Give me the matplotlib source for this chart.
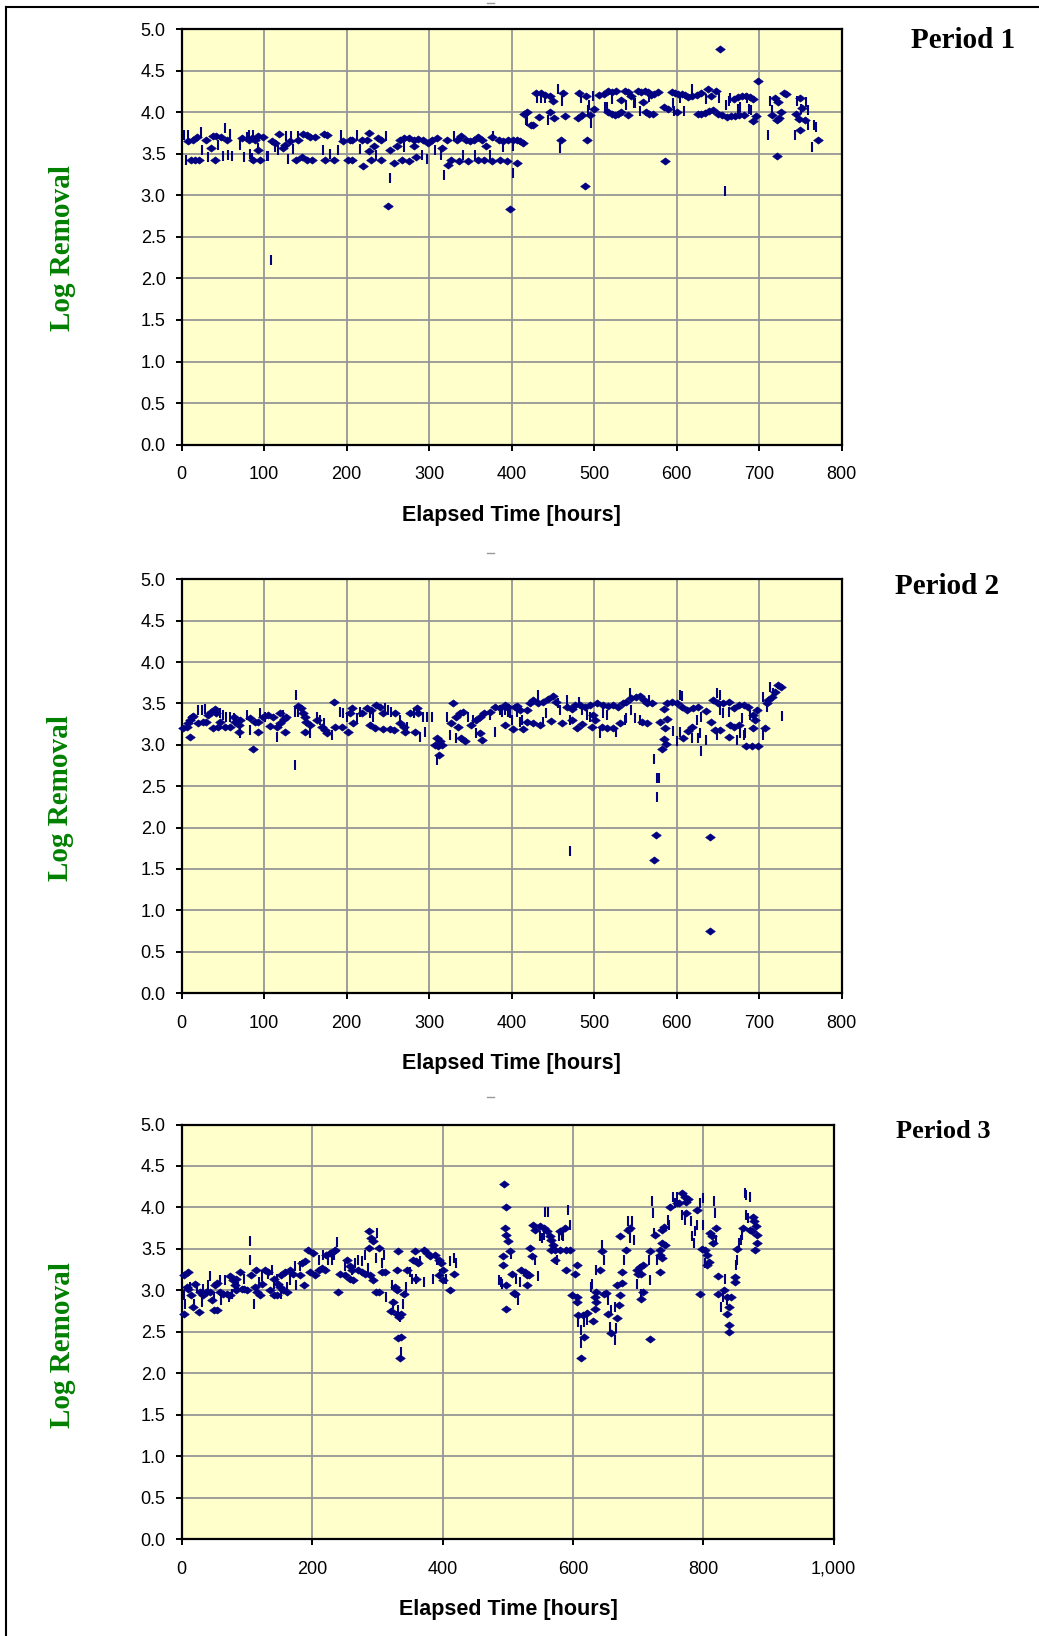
import matplotlib.pyplot as plt
import matplotlib.ticker as mticker
from matplotlib.lines import Line2D

W, H = 1039, 1636

# ---- data: (elapsed hours, log removal) ----
p1_diamonds = [
    (8, 3.65), (14, 3.67), (18, 3.70), (11, 3.43), (16, 3.43), (21, 3.43), (29, 3.67), (36, 3.57),
    (40, 3.43), (38, 3.71), (42, 3.71), (48, 3.70), (55, 3.67), (73, 3.69), (81, 3.67), (85, 3.69),
    (87, 3.43), (95, 3.43), (89, 3.67), (92, 3.54), (93, 3.71), (99, 3.70), (109, 3.65), (113, 3.63),
    (118, 3.74), (123, 3.57), (125, 3.61), (131, 3.65), (139, 3.43), (146, 3.46), (152, 3.43),
    (158, 3.43), (141, 3.66), (147, 3.74), (152, 3.72), (156, 3.70), (162, 3.70), (172, 3.74),
    (176, 3.72), (174, 3.43), (184, 3.43), (196, 3.65), (204, 3.66), (207, 3.67), (202, 3.43),
    (206, 3.43), (218, 3.66), (220, 3.35), (224, 3.67), (227, 3.75), (227, 3.53), (229, 3.43),
    (233, 3.59), (238, 3.69), (242, 3.66), (241, 3.43), (250, 2.87), (253, 3.55), (257, 3.39),
    (261, 3.59), (265, 3.67), (269, 3.69), (275, 3.69), (281, 3.66), (267, 3.43), (276, 3.41),
    (284, 3.46), (287, 3.68), (293, 3.66), (299, 3.63), (281, 3.59), (303, 3.67), (309, 3.69),
    (315, 3.57), (321, 3.66), (323, 3.37), (327, 3.43), (334, 3.66), (339, 3.71), (345, 3.67),
    (350, 3.65), (354, 3.67), (359, 3.70), (364, 3.67), (369, 3.59), (336, 3.41), (347, 3.41),
    (359, 3.43), (366, 3.42), (376, 3.41), (386, 3.43), (394, 3.41), (376, 3.70), (384, 3.66),
    (390, 3.65), (396, 3.66), (398, 2.83), (402, 3.66), (406, 3.66), (410, 3.65), (414, 3.63),
    (406, 3.39), (419, 4.00), (415, 3.98), (423, 3.84), (426, 3.84), (429, 4.23), (435, 4.23),
    (440, 4.21), (446, 4.20), (450, 4.13), (447, 4.00), (451, 3.93), (433, 3.94), (460, 3.67),
    (462, 4.23), (465, 3.95), (480, 3.93), (485, 3.97), (482, 4.23), (490, 4.19), (491, 3.67),
    (489, 3.11), (495, 3.96), (500, 4.04), (506, 4.21), (512, 4.22), (517, 4.25), (522, 4.24),
    (527, 4.25), (517, 4.00), (521, 3.98), (525, 3.97), (529, 3.98), (533, 4.00), (537, 4.25),
    (541, 4.24), (545, 4.20), (533, 4.15), (541, 3.97), (553, 4.25), (557, 4.24), (561, 4.26),
    (565, 4.24), (569, 4.21), (573, 4.22), (577, 4.24), (563, 4.00), (567, 3.98), (571, 3.98),
    (559, 4.12), (586, 3.41), (584, 4.06), (590, 4.04), (594, 4.24), (598, 4.23), (602, 4.22),
    (606, 4.22), (610, 4.21), (600, 4.00), (614, 4.18), (618, 4.20), (624, 4.21), (630, 4.23),
    (638, 4.28), (642, 4.20), (648, 4.25), (626, 3.98), (630, 3.98), (634, 3.99), (639, 4.01),
    (644, 4.03), (650, 3.98), (655, 3.96), (661, 3.94), (666, 3.95), (671, 3.95), (676, 3.96),
    (681, 3.97), (669, 4.16), (674, 4.18), (679, 4.20), (684, 4.20), (689, 4.18), (693, 4.16),
    (692, 3.89), (696, 3.95), (652, 4.76), (699, 4.38), (719, 4.17), (723, 4.12), (726, 4.00),
    (715, 3.97), (721, 3.91), (724, 3.93), (721, 3.47), (730, 4.23), (733, 4.22), (744, 3.98),
    (748, 3.92), (749, 4.17), (752, 4.05), (755, 3.90), (749, 3.79), (771, 3.67),
]
p1_bars = [
    (3, 3.73), (8, 3.73), (5, 3.43), (23, 3.76), (25, 3.55), (32, 3.46), (44, 3.60), (52, 3.81),
    (50, 3.47), (58, 3.74), (56, 3.49), (61, 3.47), (71, 3.61), (75, 3.46), (79, 3.70), (81, 3.73),
    (83, 3.50), (85, 3.45), (87, 3.72), (92, 3.57), (103, 3.47), (105, 3.47), (113, 3.58),
    (117, 3.55), (127, 3.71), (129, 3.44), (132, 3.71), (135, 3.56), (141, 3.71), (171, 3.55),
    (180, 3.50), (190, 3.55), (193, 3.72), (212, 3.72), (216, 3.56), (236, 3.49), (248, 3.71),
    (252, 3.21), (269, 3.58), (291, 3.49), (297, 3.44), (307, 3.55), (314, 3.49), (318, 3.24),
    (330, 3.71), (341, 3.49), (355, 3.49), (374, 3.49), (377, 3.71), (390, 3.58), (401, 3.27),
    (401, 3.59), (108, 2.22), (417, 3.90), (419, 3.89), (431, 4.17), (436, 4.17), (440, 4.17),
    (444, 3.91), (456, 4.28), (459, 3.57), (461, 4.13), (484, 4.17), (493, 4.02), (494, 4.08),
    (496, 3.87), (498, 4.20), (513, 4.06), (515, 4.06), (522, 4.16), (539, 4.08), (548, 4.11),
    (550, 4.11), (555, 4.01), (567, 4.18), (595, 4.11), (597, 4.01), (604, 4.17), (609, 4.01),
    (618, 4.28), (635, 4.16), (651, 4.17), (659, 3.05), (660, 4.08), (663, 4.13), (665, 4.17),
    (674, 4.04), (677, 4.06), (685, 4.17), (688, 4.04), (690, 4.02), (711, 3.73), (713, 4.13),
    (715, 4.02), (743, 3.73), (746, 4.14), (751, 4.04), (757, 4.12), (759, 4.02), (759, 3.84),
    (764, 3.58), (767, 3.84), (769, 3.82),
]

p2_diamonds = [
    (2, 3.20), (6, 3.22), (8, 3.26), (10, 3.30), (12, 3.34), (14, 3.35), (10, 3.10), (20, 3.26),
    (26, 3.27), (30, 3.28), (32, 3.36), (36, 3.40), (40, 3.43), (42, 3.38), (38, 3.20), (44, 3.22),
    (46, 3.28), (52, 3.22), (58, 3.22), (65, 3.27), (69, 3.24), (63, 3.33), (71, 3.30), (69, 3.16),
    (87, 2.95), (83, 3.32), (89, 3.28), (93, 3.27), (93, 3.16), (99, 3.33), (105, 3.36), (111, 3.33),
    (107, 3.23), (115, 3.22), (119, 3.26), (124, 3.31), (125, 3.16), (127, 3.34), (119, 3.38),
    (141, 3.47), (144, 3.44), (147, 3.39), (150, 3.34), (151, 3.28), (150, 3.15), (156, 3.24),
    (164, 3.30), (170, 3.22), (174, 3.18), (176, 3.14), (184, 3.52), (186, 3.22), (194, 3.22),
    (202, 3.16), (204, 3.38), (208, 3.26), (206, 3.44), (218, 3.38), (224, 3.44), (230, 3.42),
    (236, 3.48), (240, 3.46), (228, 3.24), (234, 3.20), (244, 3.19), (252, 3.19), (257, 3.18),
    (244, 3.38), (258, 3.38), (265, 3.26), (269, 3.22), (271, 3.16), (283, 3.16), (277, 3.38),
    (285, 3.44), (287, 3.39), (307, 3.00), (311, 2.98), (313, 3.04), (309, 3.08), (316, 3.00),
    (312, 2.88), (329, 3.51), (327, 3.26), (333, 3.34), (337, 3.38), (341, 3.40), (339, 3.08),
    (343, 3.04), (335, 3.22), (351, 3.24), (357, 3.30), (362, 3.34), (366, 3.38), (362, 3.14),
    (364, 3.06), (374, 3.40), (380, 3.46), (386, 3.45), (392, 3.48), (396, 3.46), (406, 3.47),
    (402, 3.19), (414, 3.19), (394, 3.46), (404, 3.46), (410, 3.42), (392, 3.24), (418, 3.42),
    (422, 3.50), (426, 3.54), (432, 3.51), (438, 3.52), (444, 3.55), (450, 3.59), (454, 3.52),
    (418, 3.28), (426, 3.26), (434, 3.24), (448, 3.29), (461, 3.26), (467, 3.46), (473, 3.43),
    (477, 3.48), (483, 3.48), (489, 3.46), (495, 3.48), (473, 3.30), (479, 3.20), (485, 3.25),
    (499, 3.36), (501, 3.30), (497, 3.22), (503, 3.50), (511, 3.48), (517, 3.47), (523, 3.48),
    (529, 3.46), (509, 3.22), (515, 3.20), (523, 3.20), (531, 3.26), (535, 3.50), (539, 3.52),
    (545, 3.56), (551, 3.58), (556, 3.59), (560, 3.54), (564, 3.50), (570, 3.51), (564, 3.26),
    (558, 3.28), (584, 3.43), (588, 3.50), (594, 3.52), (600, 3.51), (580, 3.28), (586, 3.20),
    (588, 3.31), (584, 3.07), (582, 2.95), (587, 3.01), (575, 1.91), (572, 1.61), (640, 1.88),
    (640, 0.75), (606, 3.46), (612, 3.42), (620, 3.44), (626, 3.46), (636, 3.41), (608, 3.08),
    (614, 3.17), (618, 3.22), (642, 3.27), (646, 3.18), (652, 3.18), (644, 3.54), (650, 3.51),
    (656, 3.50), (663, 3.52), (665, 3.24), (669, 3.44), (675, 3.48), (681, 3.48), (687, 3.46),
    (663, 3.10), (669, 3.22), (675, 3.24), (693, 3.36), (695, 3.30), (697, 3.42), (684, 2.99),
    (691, 2.99), (699, 2.99), (693, 3.20), (707, 3.20), (709, 3.50), (711, 3.54), (715, 3.58),
    (719, 3.64), (723, 3.72), (727, 3.70),
]
p2_bars = [
    (20, 3.42), (24, 3.42), (28, 3.43), (46, 3.38), (50, 3.36), (54, 3.34), (58, 3.34), (63, 3.32),
    (71, 3.14), (79, 3.36), (83, 3.18), (95, 3.38), (101, 3.34), (115, 3.10), (123, 3.36),
    (137, 2.76), (138, 3.60), (137, 3.40), (141, 3.40), (156, 3.14), (164, 3.34), (168, 3.30),
    (172, 3.26), (182, 3.12), (192, 3.40), (196, 3.38), (200, 3.34), (212, 3.32), (216, 3.40),
    (228, 3.38), (232, 3.34), (246, 3.44), (250, 3.42), (254, 3.40), (265, 3.30), (273, 3.22),
    (281, 3.38), (289, 3.10), (293, 3.34), (295, 3.16), (297, 3.34), (303, 3.34), (309, 2.82),
    (321, 3.34), (325, 3.12), (333, 3.08), (347, 3.34), (353, 3.30), (357, 3.14), (374, 3.36),
    (380, 3.16), (386, 3.42), (398, 3.38), (406, 3.40), (412, 3.30), (388, 3.40), (392, 3.42),
    (396, 3.40), (400, 3.30), (410, 3.28), (432, 3.60), (438, 3.28), (442, 3.38), (456, 3.50),
    (458, 3.42), (467, 3.54), (471, 3.30), (481, 3.52), (485, 3.42), (491, 3.36), (495, 3.34),
    (507, 3.14), (511, 3.38), (515, 3.36), (527, 3.16), (537, 3.30), (539, 3.32), (543, 3.62),
    (545, 3.42), (549, 3.32), (556, 3.30), (566, 3.54), (573, 2.83), (576, 2.60), (578, 2.60),
    (576, 2.37), (471, 1.72), (595, 3.17), (600, 3.04), (604, 3.60), (606, 3.59), (604, 3.16),
    (619, 3.08), (626, 3.08), (628, 3.14), (630, 2.92), (624, 3.30), (630, 3.34), (636, 3.06),
    (649, 3.62), (653, 3.60), (649, 3.12), (653, 3.42), (656, 3.38), (663, 3.40), (673, 3.06),
    (679, 3.32), (681, 3.12), (683, 3.14), (677, 3.14), (689, 3.36), (705, 3.58), (709, 3.46),
    (705, 3.12), (713, 3.70), (717, 3.62), (728, 3.35),
]

p3_diamonds = [
    (3, 2.72), (3, 3.18), (9, 3.22), (10, 3.02), (8, 3.04), (14, 2.94), (18, 2.80), (20, 3.08),
    (26, 2.74), (28, 2.98), (33, 2.94), (38, 2.98), (43, 2.98), (46, 2.88), (49, 2.76), (54, 2.76),
    (51, 3.06), (54, 3.09), (59, 2.98), (64, 2.96), (69, 2.96), (74, 2.94), (74, 3.17), (79, 3.12),
    (84, 3.14), (89, 3.22), (84, 3.00), (92, 3.02), (82, 3.06), (95, 3.02), (100, 3.00),
    (107, 3.18), (114, 3.24), (112, 3.04), (116, 2.98), (120, 2.94), (123, 3.08), (128, 3.25),
    (133, 3.22), (135, 3.00), (141, 2.94), (146, 2.94), (141, 3.14), (148, 3.08), (153, 3.18),
    (158, 3.22), (150, 3.04), (156, 3.00), (161, 2.98), (166, 3.25), (171, 3.20), (184, 3.33),
    (189, 3.35), (182, 3.18), (187, 3.06), (194, 3.49), (202, 3.45), (197, 3.22), (205, 3.18),
    (210, 3.25), (215, 3.27), (220, 3.25), (222, 3.43), (228, 3.45), (233, 3.47), (235, 3.49),
    (240, 2.98), (243, 3.20), (250, 3.18), (253, 3.37), (258, 3.29), (258, 3.14), (261, 3.25),
    (263, 3.12), (271, 3.25), (276, 3.22), (281, 3.20), (288, 3.71), (291, 3.63), (293, 3.59),
    (288, 3.51), (289, 3.18), (294, 3.12), (298, 2.98), (302, 2.98), (302, 3.51), (307, 3.22),
    (312, 3.22), (332, 3.48), (330, 3.25), (327, 3.04), (330, 3.00), (324, 2.86), (321, 2.75),
    (330, 2.72), (334, 2.68), (337, 2.71), (332, 2.42), (337, 2.44), (335, 2.18), (341, 2.96),
    (346, 3.25), (358, 3.47), (355, 3.37), (359, 3.35), (363, 3.33), (360, 3.14), (371, 3.49),
    (376, 3.45), (381, 3.41), (388, 3.43), (394, 3.37), (397, 3.33), (401, 3.25), (395, 3.18),
    (400, 3.12), (411, 3.00), (417, 3.20), (494, 4.28), (497, 4.00), (496, 3.75), (498, 3.67),
    (501, 3.60), (504, 3.47), (493, 3.41), (493, 3.31), (498, 3.06), (498, 2.77), (506, 3.20),
    (509, 2.97), (511, 2.96), (521, 3.25), (527, 3.22), (529, 3.18), (532, 3.19), (529, 3.06),
    (534, 3.51), (537, 3.41), (539, 3.79), (542, 3.73), (550, 3.77), (555, 3.75), (560, 3.71),
    (565, 3.65), (567, 3.61), (570, 3.55), (567, 3.49), (572, 3.49), (573, 3.37), (580, 3.71),
    (588, 3.75), (580, 3.49), (589, 3.49), (596, 3.49), (589, 3.24), (606, 3.31), (603, 3.20),
    (598, 2.94), (606, 2.92), (606, 2.86), (608, 2.70), (616, 2.70), (622, 2.73), (617, 2.44),
    (613, 2.18), (631, 2.63), (634, 2.77), (636, 2.86), (634, 2.92), (636, 2.98), (642, 3.24),
    (644, 3.48), (648, 2.96), (651, 2.97), (654, 2.71), (659, 2.48), (667, 2.67), (667, 3.06),
    (670, 2.82), (672, 2.94), (675, 3.09), (672, 3.65), (676, 3.22), (681, 3.49), (685, 3.73),
    (688, 3.75), (698, 3.24), (703, 3.28), (708, 3.31), (705, 3.20), (700, 3.20), (708, 2.98),
    (705, 2.89), (718, 2.41), (718, 3.47), (726, 3.67), (734, 3.49), (733, 3.43), (736, 3.39),
    (734, 3.22), (736, 3.73), (740, 3.76), (736, 3.57), (741, 3.55), (749, 4.01), (759, 4.05),
    (762, 4.05), (767, 4.17), (772, 4.13), (774, 4.07), (777, 4.10), (774, 3.93), (790, 3.97),
    (795, 2.96), (798, 3.50), (803, 3.49), (805, 3.43), (805, 3.30), (809, 3.34), (810, 3.69),
    (813, 3.65), (815, 3.57), (819, 3.75), (823, 3.17), (822, 2.96), (832, 3.00), (836, 2.92),
    (840, 2.80), (837, 2.71), (840, 2.58), (840, 2.50), (843, 2.92), (849, 3.16), (849, 3.10),
    (852, 3.50), (861, 3.75), (872, 3.73), (876, 3.89), (878, 3.83), (881, 3.77), (882, 3.67),
    (882, 3.57), (879, 3.49), (874, 3.71),
]
p3_bars = [
    (4, 2.94), (5, 2.84), (12, 3.04), (19, 2.84), (23, 3.04), (31, 2.86), (33, 3.02), (41, 3.06),
    (43, 3.17), (49, 2.92), (59, 3.12), (61, 2.88), (66, 3.12), (72, 2.92), (77, 2.96), (87, 3.04),
    (95, 3.14), (105, 3.60), (105, 3.37), (111, 2.84), (118, 3.10), (123, 3.17), (133, 3.20),
    (138, 3.25), (141, 3.08), (146, 3.14), (153, 2.96), (161, 3.04), (166, 3.12), (174, 3.29),
    (176, 3.06), (181, 3.29), (210, 3.37), (217, 3.43), (225, 3.37), (230, 3.37), (233, 3.43),
    (238, 3.58), (250, 3.29), (261, 3.25), (266, 3.33), (271, 3.37), (276, 3.35), (281, 3.43),
    (286, 3.27), (299, 3.69), (298, 3.39), (307, 3.33), (310, 3.43), (314, 2.92), (322, 3.06),
    (324, 2.84), (332, 2.76), (335, 2.68), (337, 2.26), (340, 2.84), (344, 3.04), (350, 3.22),
    (353, 3.14), (360, 3.14), (366, 3.35), (371, 3.10), (386, 3.14), (391, 3.37), (396, 3.20),
    (405, 3.14), (411, 3.35), (417, 3.39), (421, 3.33), (486, 3.12), (489, 3.10), (492, 3.08),
    (505, 3.44), (513, 3.14), (516, 2.88), (519, 3.10), (542, 3.37), (547, 3.17), (552, 3.63),
    (557, 3.95), (562, 3.95), (555, 3.67), (550, 3.65), (579, 3.65), (583, 3.67), (585, 3.65),
    (593, 3.97), (596, 3.79), (575, 3.37), (608, 2.62), (613, 2.52), (617, 2.62), (613, 2.36),
    (621, 2.64), (627, 3.04), (630, 3.08), (636, 3.24), (644, 3.55), (648, 3.37), (654, 2.88),
    (659, 2.76), (664, 2.80), (657, 2.56), (664, 2.40), (666, 2.54), (678, 3.37), (685, 3.83),
    (691, 3.84), (688, 3.63), (694, 3.61), (698, 3.08), (705, 2.96), (716, 3.37), (719, 3.12),
    (722, 4.08), (723, 3.93), (725, 3.69), (729, 3.37), (746, 3.85), (748, 3.79), (753, 4.13),
    (757, 4.05), (759, 4.13), (768, 3.91), (772, 3.85), (781, 3.83), (782, 3.65), (785, 3.57),
    (787, 3.71), (790, 3.79), (795, 4.05), (799, 4.11), (800, 3.79), (803, 3.33), (817, 4.08),
    (818, 3.93), (820, 3.61), (827, 2.80), (830, 2.92), (833, 3.14), (837, 2.88), (850, 3.30),
    (852, 3.37), (855, 3.57), (858, 3.61), (860, 3.67), (864, 4.17), (866, 4.15), (872, 4.13),
    (866, 3.91), (869, 3.87),
]

period_names = ["Period 1", "Period 2", "Period 3"]
x_limits = [800, 800, 1000]
x_steps = [100, 100, 200]

NAVY = "#000080"
BG = "#FFFFCC"
GRID = "#969696"
GREEN = "#008000"

diamond = [(-1, 0), (0, 0.75), (1, 0), (0, -0.75), (-1, 0)]

plt.rcParams["font.family"] = ["Liberation Sans", "DejaVu Sans"]


def fx(px):
    return px / W


def fy(py):
    return 1 - py / H


fig = plt.figure(figsize=(W / 100, H / 100), dpi=100)

# axes boxes in pixels: left, right, top, bottom
boxes = [
    (181.7, 841.7, 29.0, 444.7),
    (181.7, 841.7, 579.3, 993.0),
    (181.7, 833.7, 1124.5, 1539.0),
]
xlabel_pos = [(511, 515), (511, 1063), (508, 1609)]
ylabel_pos = [(63, 248), (60, 798), (63, 1345)]
period_pos = [(963, 40), (947, 587), (943, 1132)]
period_sizes = [21, 21, 19]

panels = [(p1_diamonds, p1_bars), (p2_diamonds, p2_bars), (p3_diamonds, p3_bars)]

for i, (dia, bars) in enumerate(panels):
    l, r, t, b = boxes[i]
    ax = fig.add_axes([fx(l), fy(b), (r - l) / W, (b - t) / H])
    ax.set_facecolor(BG)

    bx, by = zip(*bars)
    ax.plot(bx, by, linestyle="none", marker="|", markersize=6.5, mew=1.5,
            color=NAVY, zorder=3, clip_on=False)
    dx, dy = zip(*dia)
    ax.plot(dx, dy, linestyle="none", marker=diamond, markersize=7, mew=0.4,
            color=NAVY, zorder=4, clip_on=False)

    ax.set_xlim(0, x_limits[i])
    ax.set_ylim(0, 5)
    ax.xaxis.set_major_locator(mticker.MultipleLocator(x_steps[i]))
    ax.yaxis.set_major_locator(mticker.MultipleLocator(0.5))
    ax.yaxis.set_major_formatter(mticker.FormatStrFormatter("%.1f"))
    if x_limits[i] == 1000:
        ax.xaxis.set_major_formatter(mticker.FuncFormatter(lambda v, p: f"{v:,.0f}"))

    ax.grid(True, color=GRID, linewidth=1.3, zorder=1)
    ax.set_axisbelow(True)
    for s in ax.spines.values():
        s.set_linewidth(1.6)
        s.set_color("black")
    ax.tick_params(axis="both", direction="out", length=4.5, width=1.4,
                   labelsize=13, color="black")
    ax.tick_params(axis="x", pad=11)
    ax.tick_params(axis="y", pad=7)

    fig.text(fx(xlabel_pos[i][0]), fy(xlabel_pos[i][1]), "Elapsed Time [hours]",
             ha="center", va="center", fontsize=15.5, fontweight="bold")
    fig.text(fx(ylabel_pos[i][0]), fy(ylabel_pos[i][1]), "Log Removal",
             ha="center", va="center", rotation=90, fontsize=21, fontweight="bold",
             family=["Liberation Serif", "DejaVu Serif"], color=GREEN)
    fig.text(fx(period_pos[i][0]), fy(period_pos[i][1]), period_names[i],
             ha="center", va="center", fontsize=period_sizes[i], fontweight="bold",
             family=["Liberation Serif", "DejaVu Serif"])

# outer frame (cropped on right and bottom)
fig.add_artist(Line2D([fx(6), fx(6)], [0, fy(6.7)], color="black", lw=1.5))
fig.add_artist(Line2D([fx(6), 1], [fy(6.7), fy(6.7)], color="black", lw=1.5))
# small grey marks above each chart
for yy in [3, 553, 1097]:
    fig.add_artist(Line2D([fx(487), fx(494)], [fy(yy), fy(yy)], color="#999999", lw=1))

fig.savefig("out.png", dpi=100)
